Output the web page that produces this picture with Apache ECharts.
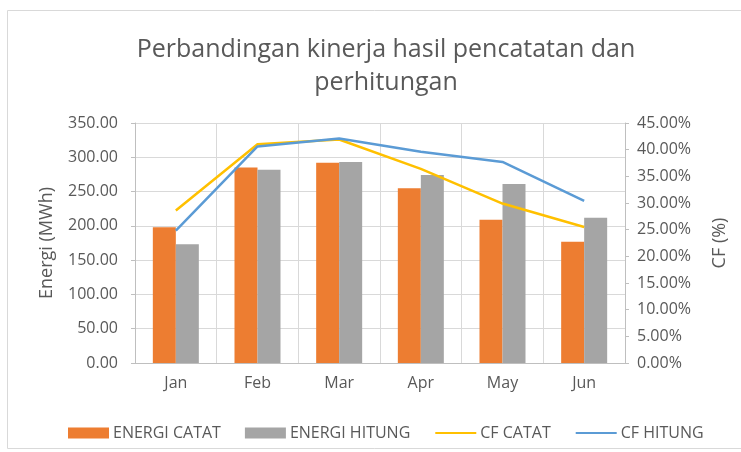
<!DOCTYPE html>
<html>
<head>
<meta charset="utf-8">
<script src="https://cdn.jsdelivr.net/npm/echarts@6/dist/echarts.min.js"></script>
<style>
  html, body { margin: 0; padding: 0; background: #fff; }
  #chart { width: 741px; height: 452px; }
</style>
</head>
<body>
<div id="chart"></div>
<script>
const months = ['Jan', 'Feb', 'Mar', 'Apr', 'May', 'Jun'];
const energiCatat = [198, 285, 292, 255, 209, 177];
const energiHitung = [173, 282, 293, 274, 261, 212];
const cfCatat = [28.6, 41.0, 41.9, 36.4, 29.9, 25.5];
const cfHitung = [24.8, 40.6, 42.1, 39.6, 37.7, 30.4];

const textColor = '#595959';
const fontName = 'Open Sans';

const chart = echarts.init(document.getElementById('chart'));

chart.setOption({
    animation: false,
    textStyle: { fontFamily: fontName },
    title: {
        text: 'Perbandingan kinerja hasil pencatatan dan\nperhitungan',
        left: 381,
        top: 28,
        textAlign: 'center',
        textStyle: { fontFamily: fontName, fontSize: 25, fontWeight: 'normal', color: textColor, lineHeight: 33 }
    },
    graphic: [{
        type: 'rect',
        shape: { x: 7.5, y: 10.5, width: 760, height: 438 },
        style: { fill: 'none', stroke: '#d9d9d9', lineWidth: 1 },
        silent: true
    }],
    legend: {
        top: 420,
        left: 63,
        itemWidth: 41,
        itemHeight: 11,
        itemGap: 24,
        textStyle: { fontFamily: fontName, fontSize: 16, color: textColor, padding: [0, 0, 0, -1] },
        data: [
            { name: 'ENERGI CATAT', icon: 'rect' },
            { name: 'ENERGI HITUNG', icon: 'rect' },
            { name: 'CF CATAT', itemStyle: { opacity: 0 } },
            { name: 'CF HITUNG', itemStyle: { opacity: 0 } }
        ]
    },
    grid: { left: 135, right: 116, top: 123, bottom: 89 },
    xAxis: {
        type: 'category',
        data: months,
        axisLine: { lineStyle: { color: '#bfbfbf' } },
        axisTick: { show: false },
        axisLabel: { color: textColor, fontSize: 16, margin: 12 },
        splitLine: { show: true, lineStyle: { color: '#d9d9d9' } }
    },
    yAxis: [{
        type: 'value',
        min: 0,
        max: 350,
        interval: 50,
        name: 'Energi (MWh)',
        nameLocation: 'middle',
        nameGap: 79,
        nameTextStyle: { color: textColor, fontSize: 18 },
        axisLine: { show: true, lineStyle: { color: '#bfbfbf' } },
        axisTick: { show: true, length: 4, lineStyle: { color: '#bfbfbf' } },
        axisLabel: { color: textColor, fontSize: 16, margin: 17, formatter: v => v.toFixed(2) },
        splitLine: { lineStyle: { color: '#d9d9d9' } }
    }, {
        type: 'value',
        min: 0,
        max: 45,
        interval: 5,
        name: 'CF (%)',
        nameLocation: 'middle',
        nameGap: 86,
        nameRotate: 90,
        nameTextStyle: { color: textColor, fontSize: 18 },
        axisLine: { show: true, lineStyle: { color: '#bfbfbf' } },
        axisTick: { show: true, length: 4, lineStyle: { color: '#bfbfbf' } },
        axisLabel: { color: textColor, fontSize: 16, margin: 12, formatter: v => v.toFixed(2) + '%' },
        splitLine: { show: false }
    }],
    series: [{
        name: 'ENERGI CATAT',
        type: 'bar',
        data: energiCatat,
        barWidth: 23,
        barGap: '0%',
        itemStyle: { color: '#ed7d31' }
    }, {
        name: 'ENERGI HITUNG',
        type: 'bar',
        data: energiHitung,
        barWidth: 23,
        itemStyle: { color: '#a5a5a5' }
    }, {
        name: 'CF CATAT',
        type: 'line',
        yAxisIndex: 1,
        data: cfCatat,
        showSymbol: false,
        symbol: 'none',
        lineStyle: { color: '#ffc000', width: 2.5 },
        itemStyle: { color: '#ffc000' }
    }, {
        name: 'CF HITUNG',
        type: 'line',
        yAxisIndex: 1,
        data: cfHitung,
        showSymbol: false,
        symbol: 'none',
        lineStyle: { color: '#5b9bd5', width: 2.5 },
        itemStyle: { color: '#5b9bd5' }
    }]
});
</script>
</body>
</html>
